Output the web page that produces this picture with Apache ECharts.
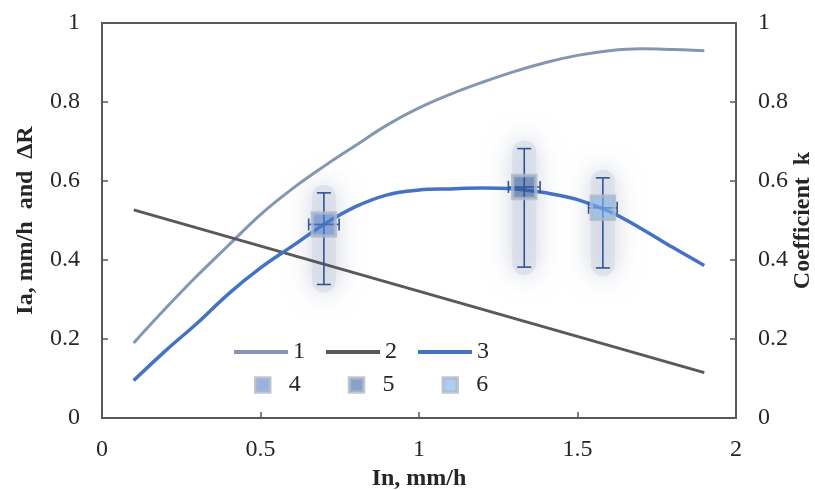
<!DOCTYPE html>
<html>
<head>
<meta charset="utf-8">
<script src="https://cdn.jsdelivr.net/npm/echarts@6/dist/echarts.min.js"></script>
<style>
  html, body { margin: 0; padding: 0; background: #fff; }
  #chart { width: 815px; height: 490px; }
</style>
</head>
<body>
<div id="chart"></div>
<script>
// curve 1, 3: x from 0.1 to 1.9 step 0.1
var xs = [0.1, 0.2, 0.3, 0.4, 0.5, 0.6, 0.7, 0.8, 0.9, 1.0, 1.1, 1.2, 1.3, 1.4, 1.5, 1.6, 1.7, 1.8, 1.9];
var curve1 = [0.19, 0.277, 0.36, 0.438, 0.515, 0.58, 0.637, 0.69, 0.742, 0.785, 0.82, 0.85, 0.877, 0.9, 0.918, 0.93, 0.935, 0.933, 0.93];
var curve3 = [0.095, 0.17, 0.24, 0.315, 0.38, 0.435, 0.49, 0.535, 0.565, 0.577, 0.58, 0.582, 0.58, 0.57, 0.553, 0.523, 0.48, 0.432, 0.386];
// curve 2 is a straight line
var curve2x = [0.1, 1.9];
var curve2 = [0.527, 0.115];

// measured points 4, 5, 6: x, y, y low, y high, x error
var point4 = [0.70, 0.49, 0.338, 0.57, 0.048];
var point5 = [1.332, 0.585, 0.382, 0.682, 0.05];
var point6 = [1.58, 0.532, 0.38, 0.608, 0.045];

var font = 'Liberation Serif';
var markerBorder = '#ADB9CA';
var colors4 = 'rgba(84,125,204,0.75)';
var colors5 = 'rgba(47,85,151,0.7)';
var colors6 = 'rgba(130,178,230,0.8)';

function pairs(x, y) {
  return x.map(function (v, i) { return [v, y[i]]; });
}

// soft halo behind each error bar
function glowItem(params, api) {
  var c = api.coord([api.value(0), api.value(1)]);
  var lo = api.coord([api.value(0), api.value(2)]);
  var hi = api.coord([api.value(0), api.value(3)]);
  return {
    type: 'rect',
    shape: { x: c[0] - 12, y: hi[1] - 8, width: 24, height: lo[1] - hi[1] + 16, r: 12 },
    style: { fill: 'rgba(210,215,228,0.55)', shadowBlur: 24, shadowColor: 'rgba(168,177,198,1)' }
  };
}

function errItem(params, api) {
  var x = api.value(0), y = api.value(1);
  var c = api.coord([x, y]);
  var lo = api.coord([x, api.value(2)]);
  var hi = api.coord([x, api.value(3)]);
  var xl = api.coord([x - api.value(4), y]);
  var xr = api.coord([x + api.value(4), y]);
  var st = { stroke: '#2F5597', lineWidth: 1.6 };
  var cap = 7, hcap = 6;
  return {
    type: 'group',
    children: [
      { type: 'line', shape: { x1: c[0], y1: hi[1], x2: c[0], y2: lo[1] }, style: st },
      { type: 'line', shape: { x1: c[0] - cap, y1: hi[1], x2: c[0] + cap, y2: hi[1] }, style: st },
      { type: 'line', shape: { x1: c[0] - cap, y1: lo[1], x2: c[0] + cap, y2: lo[1] }, style: st },
      { type: 'line', shape: { x1: xl[0], y1: c[1], x2: xr[0], y2: c[1] }, style: st },
      { type: 'line', shape: { x1: xl[0], y1: c[1] - hcap, x2: xl[0], y2: c[1] + hcap }, style: st },
      { type: 'line', shape: { x1: xr[0], y1: c[1] - hcap, x2: xr[0], y2: c[1] + hcap }, style: st }
    ]
  };
}

var points = [point4, point5, point6];
var axisLine = { lineStyle: { color: '#595959', width: 1.8 } };
var axisTick = { inside: true, length: 6, lineStyle: { color: '#595959', width: 1.5 } };
var axisLabel = { fontFamily: font, fontSize: 24, color: '#262626' };
var nameStyle = { fontFamily: font, fontSize: 24, fontWeight: 'bold', color: '#262626' };
var legendText = { fontFamily: font, fontSize: 24, color: '#262626' };

var chart = echarts.init(document.getElementById('chart'));
chart.setOption({
  animation: false,
  grid: {
    left: 102, right: 79, top: 23, bottom: 72, outerBoundsMode: 'none',
    show: true, borderColor: '#595959', borderWidth: 1.8
  },
  legend: [
    {
      data: ['1', '2', '3'], icon: 'rect', left: 234, top: 340, padding: 0,
      itemWidth: 54, itemHeight: 4, itemGap: 21,
      textStyle: legendText
    },
    {
      data: [
        { name: '4', itemStyle: { color: colors4, borderColor: markerBorder, borderWidth: 3.5 } },
        { name: '5', itemStyle: { color: colors5, borderColor: markerBorder, borderWidth: 3.5 } },
        { name: '6', itemStyle: { color: colors6, borderColor: markerBorder, borderWidth: 3.5 } }
      ],
      icon: 'rect', left: 254, top: 373, padding: 0,
      itemWidth: 14, itemHeight: 14, itemGap: 47,
      textStyle: Object.assign({ padding: [0, 0, 0, 14] }, legendText)
    }
  ],
  xAxis: {
    type: 'value', min: 0, max: 2, interval: 0.5,
    name: 'In, mm/h', nameLocation: 'middle', nameGap: 48, nameTextStyle: nameStyle,
    axisLine: axisLine, axisTick: axisTick, axisLabel: Object.assign({ margin: 20 }, axisLabel),
    splitLine: { show: false }
  },
  yAxis: [
    {
      type: 'value', min: 0, max: 1, interval: 0.2,
      name: 'Ia, mm/h  and  ΔR', nameLocation: 'middle', nameGap: 64, nameRotate: 90, nameMoveOverlap: false,
      nameTextStyle: nameStyle,
      axisLine: axisLine, axisTick: axisTick, axisLabel: Object.assign({ margin: 22 }, axisLabel),
      splitLine: { show: false }
    },
    {
      type: 'value', min: 0, max: 1, interval: 0.2, position: 'right',
      name: 'Coefficient  k', nameLocation: 'middle', nameGap: 55, nameRotate: 90, nameMoveOverlap: false,
      nameTextStyle: nameStyle,
      axisLine: Object.assign({ show: true }, axisLine), axisTick: Object.assign({ show: true }, axisTick),
      axisLabel: Object.assign({ margin: 22 }, axisLabel),
      splitLine: { show: false }
    }
  ],
  series: [
    {
      type: 'custom', name: 'glow', renderItem: glowItem, data: points, z: 1, silent: true
    },
    {
      type: 'line', name: '1', data: pairs(xs, curve1), smooth: 0.4, showSymbol: false, symbol: 'none', z: 2,
      lineStyle: { color: '#8497B0', width: 3 }, itemStyle: { color: '#8497B0' }
    },
    {
      type: 'line', name: '2', data: pairs(curve2x, curve2), showSymbol: false, symbol: 'none', z: 2,
      lineStyle: { color: '#595959', width: 3 }, itemStyle: { color: '#595959' }
    },
    {
      type: 'line', name: '3', data: pairs(xs, curve3), smooth: 0.4, showSymbol: false, symbol: 'none', z: 2,
      lineStyle: { color: '#4472C4', width: 3.5 }, itemStyle: { color: '#4472C4' }
    },
    {
      type: 'custom', name: 'err', renderItem: errItem, data: points, z: 3, silent: true
    },
    {
      type: 'scatter', name: '4', data: [point4.slice(0, 2)], symbol: 'rect', symbolSize: 23, z: 4,
      itemStyle: { color: colors4, borderColor: markerBorder, borderWidth: 3.5 }
    },
    {
      type: 'scatter', name: '5', data: [point5.slice(0, 2)], symbol: 'rect', symbolSize: 23, z: 4,
      itemStyle: { color: colors5, borderColor: markerBorder, borderWidth: 3.5 }
    },
    {
      type: 'scatter', name: '6', data: [point6.slice(0, 2)], symbol: 'rect', symbolSize: 23, z: 4,
      itemStyle: { color: colors6, borderColor: markerBorder, borderWidth: 3.5 }
    }
  ]
});
</script>
</body>
</html>
